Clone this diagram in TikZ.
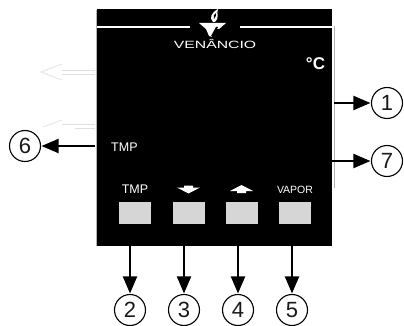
\documentclass[tikz,border=0pt]{standalone}
\usepackage{fontspec}
\setmainfont{Liberation Sans}
\usetikzlibrary{arrows.meta}
\definecolor{faint}{gray}{0.88}
\definecolor{keygray}{gray}{0.84}
\tikzset{
  x=1pt,y=-1pt,
  num/.style={circle,draw=black,line width=1.1pt,fill=white,minimum size=31pt,inner sep=0pt,font=\fontsize{22}{22}\selectfont,text=black!90},
  keybox/.style={rectangle,fill=keygray,minimum width=32pt,minimum height=22pt,inner sep=0pt},
  lbl/.style={text=white,inner sep=0pt,font=\fontsize{12.5}{13}\selectfont},
  conn/.style={draw=black,line width=2pt,-{Triangle[length=17pt,width=14pt]},shorten >=0.5pt},
  ghostline/.style={draw=faint,line width=0.8pt},
  ghosthead/.style={draw=faint,line width=0.7pt}
}
\begin{document}
\begin{tikzpicture}
\useasboundingbox (0,0) rectangle (404,326);
\fill[white] (0,0) rectangle (404,326);
% panel
\fill[black] (97,9) rectangle (332,246);
\draw[gray!60,line width=0.8pt] (96,10) -- (96,246);
\draw[gray!60,line width=0.8pt] (334,26) -- (334,188);
\draw[white,line width=2pt] (97,27) -- (190,27);
\draw[white,line width=2pt] (240,27) -- (332,27);
% logo
\fill[white] (199,23) -- (226,23) -- (219,29) -- (216,29) -- (212,37) -- (209,36) -- (206,29) -- cycle;
\fill[black] (211,36) -- (216,27) -- (218,27) -- (213,37) -- cycle;
\fill[white] (213,22) .. controls (209,18) and (211,13) .. (218,9) .. controls (216,13) and (220,18) .. (215,22) -- cycle;
\fill[black] (214,19) .. controls (213,16) and (214,14) .. (216,13) .. controls (216,15) and (216,17) .. (214,19) -- cycle;
\node[text=white,inner sep=0pt,font=\fontsize{10.5}{11}\selectfont,xscale=1.5] (brand) at (215,44) {VENÂNCIO};
\node[text=white,inner sep=0pt,font=\bfseries\fontsize{17}{17}\selectfont] (unit) at (315.5,64) {°C};
\node[lbl,anchor=west] (tmpa) at (111,147) {TMP};
% labels over keys
\node[lbl] (tmpb) at (135,189.5) {TMP};
\node[lbl,font=\fontsize{10.5}{11}\selectfont] (vapor) at (295,189.5) {VAPOR};
\fill[white] (184,185.5) -- (193,185.5) -- (193,187.5) -- (200,187.5) -- (188.5,193.5) -- (177,187.5) -- (184,187.5) -- cycle;
\fill[white] (241.5,185) -- (253,191) -- (246,191) -- (246,193) -- (237,193) -- (237,191) -- (230,191) -- cycle;
% keys
\node[keybox] (k2) at (135,213) {};
\node[keybox] (k3) at (188.5,213) {};
\node[keybox] (k4) at (241.5,213) {};
\node[keybox] (k5) at (295,213) {};
% numbered circles
\node[num] (n1) at (387,103) {1};
\node[num] (n7) at (387,161) {7};
\node[num] (n6) at (25,146) {6};
\node[num] (n2) at (130,310) {2};
\node[num] (n3) at (184,310) {3};
\node[num] (n4) at (238,310) {4};
\node[num] (n5) at (292,310) {5};
% anchors on the panel
\coordinate (a1) at (334,103);
\coordinate (a7) at (332,161);
\coordinate (a6) at (95,146);
\coordinate (a2) at (130,246);
\coordinate (a3) at (184,246);
\coordinate (a4) at (238,246);
\coordinate (a5) at (292,246);
\draw[conn] (a1) -- (n1);
\draw[conn] (a7) -- (n7);
\draw[conn] (a6) -- (n6);
\draw[conn] (a2) -- (n2);
\draw[conn] (a3) -- (n3);
\draw[conn] (a4) -- (n4);
\draw[conn] (a5) -- (n5);
% faint ghost arrows
\draw[ghostline] (62,70) -- (95,70);
\draw[ghostline] (62,74) -- (95,74);
\draw[ghosthead] (62,64) -- (41,72) -- (62,80);
\draw[ghostline] (62,124) -- (95,124);
\draw[ghostline] (75,128) -- (95,128);
\draw[ghosthead] (62,120) -- (43,127);
\end{tikzpicture}
\end{document}
